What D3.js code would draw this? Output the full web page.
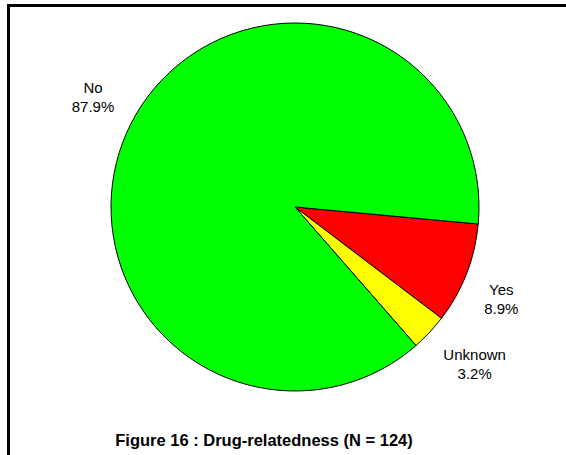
<!DOCTYPE html>
<html>
<head>
<meta charset="utf-8">
<script src="https://cdn.jsdelivr.net/npm/d3@7"></script>
<style>
  html, body { margin: 0; padding: 0; background: #fff; }
  svg { display: block; }
  text { font-family: Arial, "Liberation Sans", sans-serif; fill: #000; }
</style>
</head>
<body>
<svg id="chart" width="566" height="455"></svg>
<script>
// Drug-relatedness of reported cases (N = 124)
const categories = ["Yes", "Unknown", "No"];
const counts = [11, 4, 109];
const percentLabels = ["8.9%", "3.2%", "87.9%"];
const colors = ["#ff0000", "#ffff00", "#00ff00"];
const title = "Figure 16 : Drug-relatedness (N = 124)";

const width = 566, height = 455;
const cx = 295, cy = 207, radius = 184;
const startDeg = 95.3;   // first slice starts just below 3 o'clock

const svg = d3.select("#chart");

// frame lines (top and left)
svg.append("path")
  .attr("d", d3.line()([[width + 2, 5.5], [8.5, 5.5], [8.5, height + 2]]))
  .attr("fill", "none")
  .attr("stroke", "#000")
  .attr("stroke-width", 3);

const data = categories.map((c, i) => ({ name: c, value: counts[i], pct: percentLabels[i], color: colors[i] }));

const start = startDeg * Math.PI / 180;
const pie = d3.pie()
  .value(d => d.value)
  .sort(null)
  .startAngle(start)
  .endAngle(start + 2 * Math.PI);

const arcs = pie(data);
const arc = d3.arc().innerRadius(0).outerRadius(radius);

const g = svg.append("g").attr("transform", `translate(${cx},${cy})`);

g.selectAll("path.slice")
  .data(arcs)
  .join("path")
  .attr("class", "slice")
  .attr("d", arc)
  .attr("fill", d => d.data.color)
  .attr("stroke", "#000")
  .attr("stroke-width", 1)
  .attr("stroke-linejoin", "round");

// outside labels: box corner placed at a point beyond the rim along the mid-angle
const labelR = radius + 19;
const fontSize = 15, lineH = 19;
const labels = g.selectAll("g.lbl")
  .data(arcs)
  .join("g")
  .attr("class", "lbl");

labels.each(function(d) {
  const sel = d3.select(this);
  const t = sel.append("text")
    .attr("text-anchor", "middle")
    .style("font-size", fontSize + "px");
  t.append("tspan").attr("x", 0).attr("y", 0).text(d.data.name);
  t.append("tspan").attr("x", 0).attr("y", lineH).text(d.data.pct);
  const bb = t.node().getBBox();
  const mid = (d.startAngle + d.endAngle) / 2;
  const sx = Math.sin(mid), sy = -Math.cos(mid);
  const px = labelR * sx, py = labelR * sy;
  const bx = px + Math.sign(sx) * bb.width / 2;
  const by = py + Math.sign(sy) * bb.height / 2;
  const ox = bx - (bb.x + bb.width / 2);
  const oy = by - (bb.y + bb.height / 2);
  sel.attr("transform", `translate(${ox},${oy})`);
});

svg.append("text")
  .attr("x", 264)
  .attr("y", 446)
  .attr("text-anchor", "middle")
  .style("font-size", "16.5px")
  .style("font-weight", "bold")
  .text(title);
</script>
</body>
</html>
